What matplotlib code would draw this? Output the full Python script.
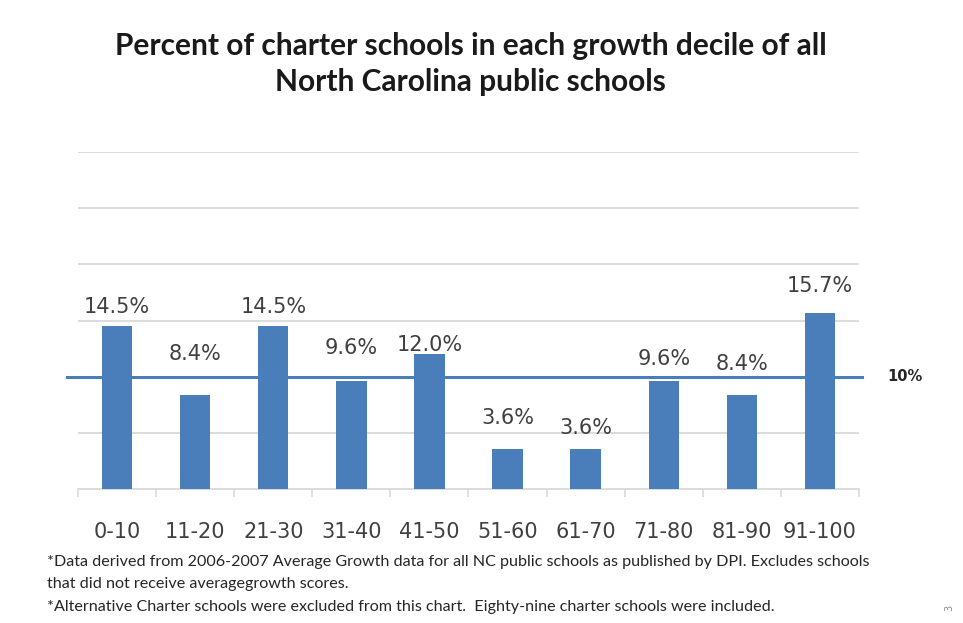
import numpy as np
import matplotlib
matplotlib.use("Agg")
from matplotlib import pyplot as plt

deciles = ["0-10", "11-20", "21-30", "31-40", "41-50",
           "51-60", "61-70", "71-80", "81-90", "91-100"]
pct = [14.5, 8.4, 14.5, 9.6, 12.0, 3.6, 3.6, 9.6, 8.4, 15.7]
benchmark = 10

# how far each value label floats above its bar (points)
label_pad = [14, 29, 14, 24, 7, 22, 15, 16, 22, 19]

bar_blue = "#4a7ebb"
text_col = "#404040"
plt.rcParams['font.family'] = ['DejaVu Sans']

fig = plt.figure(figsize=(9.63, 6.23), dpi=100)
ax = fig.add_axes([0.081, 0.215, 0.811, 0.541])

x = np.arange(len(deciles))
bars = ax.bar(x, pct, width=0.39, color=bar_blue, zorder=3)
ax.set_xlim(-0.5, len(deciles) - 0.5)
ax.set_ylim(0, 30)
ax.set_yticks(np.arange(5, 31, 5))
ax.yaxis.grid(True, color="#d9d9d9", linewidth=1.3, zorder=0)
ax.tick_params(axis="y", left=False, labelleft=False)

for s in ["top", "right", "left"]:
    ax.spines[s].set_visible(False)
ax.spines["bottom"].set_color("#d9d9d9")
ax.spines["bottom"].set_linewidth(1.3)

# tick marks sit on the category boundaries
ax.set_xticks(x)
ax.set_xticklabels(deciles, fontsize=15, color=text_col)
ax.tick_params(axis="x", length=0, pad=24)
ax.set_xticks(np.arange(len(deciles) + 1) - 0.5, minor=True)
ax.tick_params(axis="x", which="minor", length=6, color="#d9d9d9", width=1.2)

for b, v, p in zip(bars, pct, label_pad):
    ax.annotate("%.1f%%" % v, (b.get_x() + b.get_width() / 2, v),
                xytext=(0, p), textcoords="offset points",
                ha="center", va="center", fontsize=15, color=text_col)

# 10% reference line, running slightly past the plot edges
ax.plot([-0.64, 9.54], [benchmark, benchmark], color=bar_blue,
        linewidth=2.2, clip_on=False, zorder=4)
ax.text(9.86, benchmark, "%d%%" % benchmark, fontsize=10.5, fontweight="bold",
        color="#262626", va="center", ha="left")

fig.text(0.489, 0.898, "Percent of charter schools in each growth decile of all\n"
         "North Carolina public schools", ha="center", va="center",
         fontsize=21.5, fontweight="bold", color="#1a1a1a", linespacing=1.35,
         family=["Lato", "DejaVu Sans"])

notes = ["*Data derived from 2006-2007 Average Growth data for all NC public schools as published by DPI. Excludes schools",
         "that did not receive averagegrowth scores.",
         "*Alternative Charter schools were excluded from this chart.  Eighty-nine charter schools were included."]
for i, n in enumerate(notes):
    fig.text(0.049, 0.098 - i * 0.036, n, fontsize=11.6, color="#262626",
             va="center", ha="left", family=["Lato", "DejaVu Sans"])
fig.text(0.986, 0.022, "3", fontsize=7, color="#888888", ha="center",
         rotation=90)

fig.savefig("out.png", dpi=100)
